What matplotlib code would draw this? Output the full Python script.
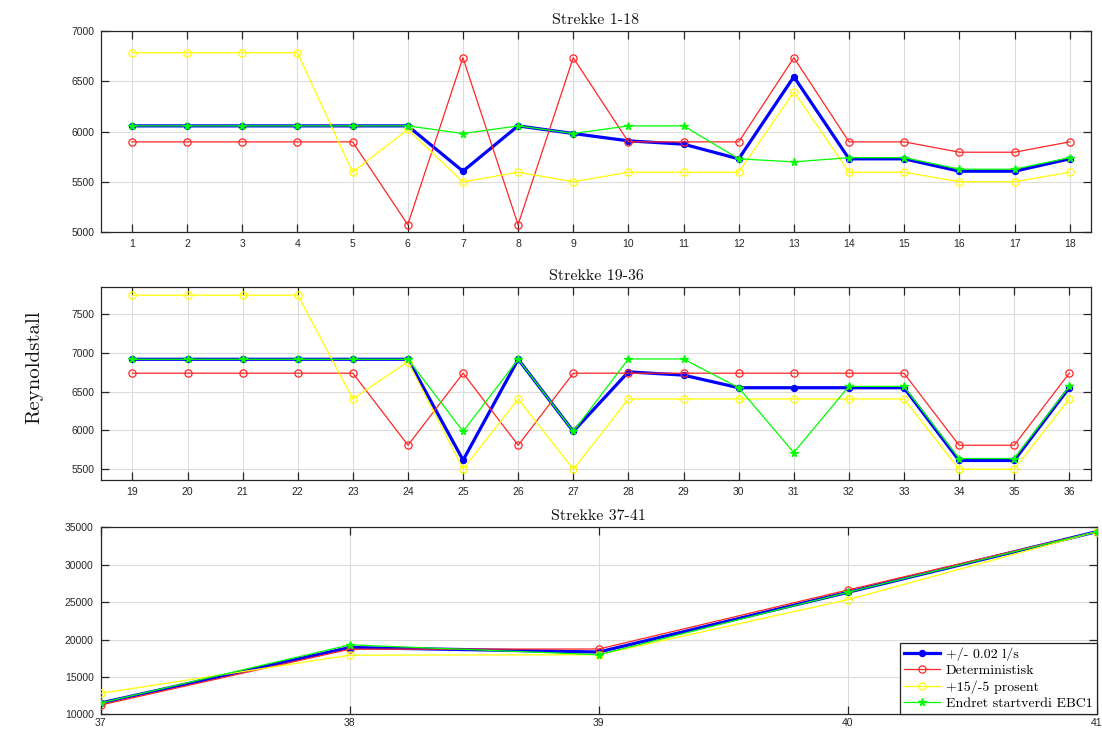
import matplotlib
matplotlib.use("Agg")
import matplotlib.pyplot as plt
import numpy as np

# ---- data ----
x1 = list(range(1, 19))
x2 = list(range(19, 37))
x3 = list(range(37, 42))

blue1 = [6056, 6056, 6056, 6056, 6056, 6056, 5605, 6056, 5980, 5907, 5874, 5728, 6545, 5728, 5728, 5605, 5605, 5728]
red1 = [5897, 5897, 5897, 5897, 5897, 5073, 6734, 5073, 6734, 5897, 5897, 5897, 6734, 5897, 5897, 5794, 5794, 5897]
yellow1 = [6784, 6784, 6784, 6784, 5595, 6020, 5498, 5595, 5500, 5595, 5595, 5595, 6395, 5595, 5595, 5500, 5500, 5595]
green1 = [6056, 6056, 6056, 6056, 6056, 6056, 5980, 6056, 5980, 6056, 6056, 5728, 5698, 5740, 5740, 5625, 5625, 5740]

blue2 = [6915, 6915, 6915, 6915, 6915, 6915, 5617, 6915, 5987, 6753, 6711, 6549, 6549, 6549, 6549, 5613, 5613, 6549]
red2 = [6736, 6736, 6736, 6736, 6736, 5809, 6736, 5809, 6736, 6736, 6736, 6736, 6736, 6736, 6736, 5809, 5809, 6736]
yellow2 = [7740, 7740, 7740, 7740, 6404, 6885, 5505, 6404, 5500, 6404, 6404, 6404, 6404, 6404, 6404, 5500, 5500, 6404]
green2 = [6915, 6915, 6915, 6915, 6915, 6915, 5987, 6915, 5987, 6919, 6919, 6549, 5715, 6566, 6566, 5638, 5638, 6566]

blue3 = [11515, 18930, 18329, 26310, 34420]
red3 = [11248, 18708, 18730, 26618, 34420]
yellow3 = [12807, 17906, 17968, 25320, 34420]
green3 = [11515, 19287, 17968, 26310, 34420]

titles = ["Strekke 1-18", "Strekke 19-36", "Strekke 37-41"]
labels = ["+/- 0.02 l/s", "Deterministisk", "+15/-5 prosent", "Endret startverdi EBC1"]
ylabel = "Reynoldstall"

SERIF = "cmr10"
TICKFONT = "Liberation Sans"
tickcol = "#262626"

fig = plt.figure(figsize=(11.02, 7.31), dpi=100)
ax1 = fig.add_axes([0.0917, 0.6826, 0.898, 0.275])
ax2 = fig.add_axes([0.0917, 0.3434, 0.8986, 0.2644])
ax3 = fig.add_axes([0.0914, 0.0228, 0.904, 0.2559])


def draw(ax, x, b, r, y, g):
    h1, = ax.plot(x, b, color=(0, 0, 1), lw=2.3, marker='o', ms=4.3, mfc=(0, 0, 1), mec=(0, 0, 1), label=labels[0], zorder=3)
    h2, = ax.plot(x, r, color=(1, 0.15, 0.15), lw=0.9, marker='o', ms=5.2, mfc='none', mec=(1, 0.15, 0.15), mew=0.9, label=labels[1], zorder=4)
    h3, = ax.plot(x, y, color=(1, 1, 0), lw=0.9, marker='o', ms=5.2, mfc='none', mec=(1, 1, 0), mew=0.9, label=labels[2], zorder=5)
    h4, = ax.plot(x, g, color=(0, 1, 0), lw=0.9, marker='*', ms=5.5, mfc=(0, 1, 0), mec=(0, 1, 0), label=labels[3], zorder=6)
    return [h1, h2, h3, h4]


handles = draw(ax1, x1, blue1, red1, yellow1, green1)
draw(ax2, x2, blue2, red2, yellow2, green2)
draw(ax3, x3, blue3, red3, yellow3, green3)

ax1.set_xlim(0.44, 18.38)
ax1.set_ylim(5000, 7000)
ax1.set_xticks(x1)
ax1.set_yticks([5000, 5500, 6000, 6500, 7000])

ax2.set_xlim(18.43, 36.4)
ax2.set_ylim(5362, 7849)
ax2.set_xticks(x2)
ax2.set_yticks([5500, 6000, 6500, 7000, 7500])

ax3.set_xlim(37, 41)
ax3.set_ylim(10000, 35000)
ax3.set_xticks(x3)
ax3.set_yticks([10000, 15000, 20000, 25000, 30000, 35000])

for ax, t in zip([ax1, ax2, ax3], titles):
    ax.set_title(t, family=SERIF, fontsize=11.5, pad=5, color="#111111")
    ax.grid(True, color="#dcdcdc", lw=0.8)
    ax.set_axisbelow(True)
    ax.tick_params(direction='in', top=True, right=True, length=5.5, width=0.9,
                   color=tickcol, labelcolor=tickcol, labelsize=7.5, pad=5)
    for lab in ax.get_xticklabels() + ax.get_yticklabels():
        lab.set_family(TICKFONT)
    for s in ax.spines.values():
        s.set_color(tickcol)
        s.set_linewidth(0.9)

ax3.tick_params(axis='x', pad=3)

fig.text(0.031, 0.497, ylabel, rotation=90, ha='center', va='center', family=SERIF, fontsize=15, color="#111111")

leg = ax3.legend(handles=handles, loc='lower right', borderaxespad=0.0, frameon=True, fancybox=False,
                 edgecolor='#262626', framealpha=1.0, prop={'family': SERIF, 'size': 10},
                 handlelength=2.6, handletextpad=0.4, labelspacing=0.25, borderpad=0.3)
leg.get_frame().set_linewidth(0.9)

fig.savefig("out.png", dpi=100)
